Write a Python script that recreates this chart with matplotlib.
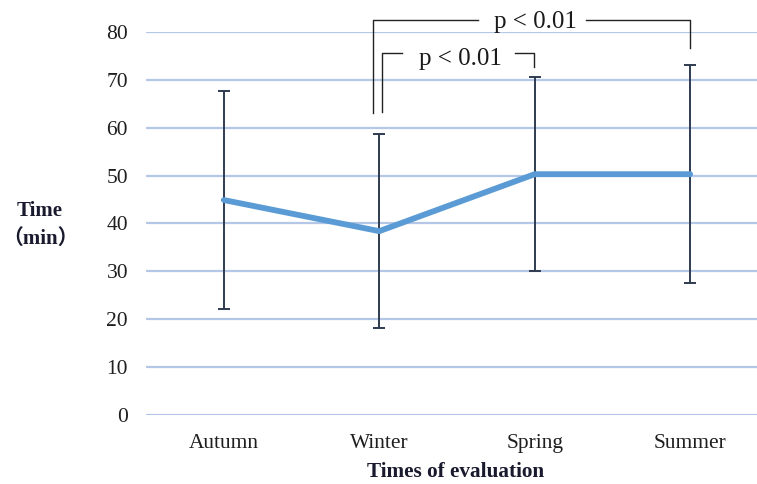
import matplotlib
matplotlib.use("Agg")
import matplotlib.pyplot as plt
import numpy as np

categories = ["Autumn", "Winter", "Spring", "Summer"]
means = [44.9, 38.4, 50.3, 50.3]
sds = [22.8, 20.3, 20.2, 22.8]
yticks = [0, 10, 20, 30, 40, 50, 60, 70, 80]
p_labels = ["p < 0.01", "p < 0.01"]

plt.rcParams['font.family'] = ['Liberation Serif', 'Noto Sans CJK JP']

fig = plt.figure(figsize=(7.57, 4.84), dpi=100)
ax = fig.add_axes([0.193, 0.1426, 0.807, 0.7913])

x = np.arange(len(categories))
ax.set_yticks(yticks)
ax.yaxis.grid(True, color='#B4C7E7', linewidth=1.6)
ax.set_axisbelow(True)
ax.errorbar(x, means, yerr=sds, fmt='none', ecolor='#2F3B50', elinewidth=1.4,
            capsize=4, capthick=1.4, zorder=2)
ax.plot(x, means, color='#5B9BD5', linewidth=4.2, solid_capstyle='round', zorder=3)

ax.set_xlim(-0.5, 3.43)
ax.set_ylim(0, 80)
ax.set_xticks(x)
ax.set_xticklabels(categories, fontsize=15.4, color='#1F1F1F')
for s in ax.spines.values():
    s.set_visible(False)
ax.tick_params(axis='both', length=0, colors='#1F1F1F')
ax.tick_params(axis='y', pad=13, labelsize=15.5)
ax.tick_params(axis='x', pad=14)
ax.set_xlabel("Times of evaluation", fontsize=15.3, fontweight='bold', color='#1A1A2E')
ax.xaxis.set_label_coords((456 - 146) / 611, (415 - 472) / 383)
ax.xaxis.label.set_va('center')

fig.text(0.053, 0.564, "Time", fontsize=15, fontweight='bold', ha='center', va='center', color='#1A1A2E')
fig.text(0.053, 0.506, "（min）", fontsize=15, fontweight='bold', ha='center', va='center', color='#1A1A2E')

bk = dict(color='#222222', linewidth=1.0, clip_on=False)
# outer bracket Winter-Summer
ax.plot([0.96, 0.96, 1.633], [63.0, 82.5, 82.5], **bk)
ax.plot([2.328, 2.997, 2.997], [82.5, 82.5, 76.6], **bk)
ax.text(2.003, 80.8, p_labels[0], fontsize=18, ha='center', va='baseline', clip_on=False, color='#1A1A1A')
# inner bracket Winter-Spring
ax.plot([1.016, 1.016, 1.145], [63.2, 75.6, 75.6], **bk)
ax.plot([1.871, 1.994, 1.994], [75.6, 75.6, 72.7], **bk)
ax.text(1.52, 73.1, p_labels[1], fontsize=18, ha='center', va='baseline', clip_on=False, color='#1A1A1A')

fig.savefig("out.png", dpi=100)
